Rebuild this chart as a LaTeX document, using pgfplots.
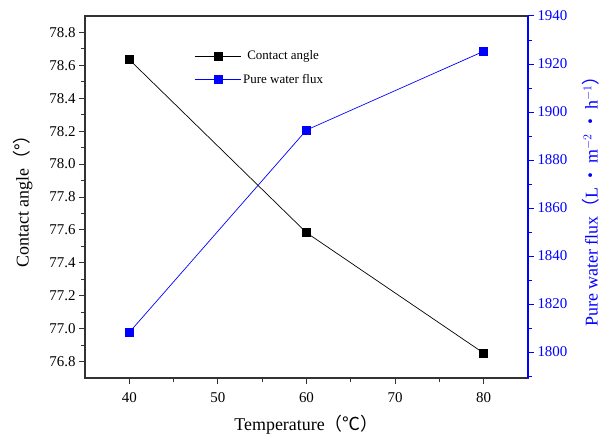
\documentclass[border=0pt]{standalone}
\usepackage{pgfplots}
\pgfplotsset{compat=1.18}
\usepackage{fontspec}
\setmainfont{Liberation Serif}
\newfontfamily\cjk{Noto Sans CJK SC}
\definecolor{fluxblue}{RGB}{0,0,255}
\definecolor{axgray}{RGB}{50,50,50}

\begin{document}
\begin{tikzpicture}
    % left axis: contact angle
    \begin{axis}[
        scale only axis,
        width=443bp, height=362bp,
        xmin=35, xmax=85,
        ymin=76.7, ymax=78.9,
        xtick={40,50,60,70,80},
        xticklabels={40,50,60,70,80},
        minor xtick={45,55,65,75},
        ytick={76.8,77.0,77.2,77.4,77.6,77.8,78.0,78.2,78.4,78.6,78.8},
        yticklabels={76.8,77.0,77.2,77.4,77.6,77.8,78.0,78.2,78.4,78.6,78.8},
        minor ytick={76.9,77.1,77.3,77.5,77.7,77.9,78.1,78.3,78.5,78.7},
        xtick pos=bottom, ytick pos=left,
        tick align=outside,
        major tick length=6bp, minor tick length=4bp,
        axis line style={axgray, line width=1.5pt},
        every tick/.style={axgray, line width=1pt},
        xticklabel style={yshift=-5bp},
        tick label style={font=\rmfamily\fontsize{15}{17}\selectfont},
        label style={font=\fontsize{18}{20}\selectfont},
        xlabel={Temperature{\cjk（℃）}},
        ylabel={Contact angle{\cjk（°）}},
        xlabel style={yshift=-6bp},
        ylabel style={yshift=10bp},
        legend style={draw=none, fill=none, at={(0.24,0.915)}, anchor=north west,
            font=\fontsize{13}{15}\selectfont, row sep=9bp,
            /tikz/every even column/.append style={column sep=4bp}},
        legend image code/.code={
            \draw[#1, mark=none] (0bp,0bp) -- (16bp,0bp);
            \draw[#1, mark=none] (30bp,0bp) -- (46bp,0bp);
            \path[#1, mark repeat=2, mark phase=2]
                plot coordinates {(0bp,0bp) (23bp,0bp) (46bp,0bp)};
        },
    ]
        \coordinate (o) at (rel axis cs:0,0);
        \addplot[color=black, line width=0.7pt, mark=square*, mark size=4bp,
            mark options={solid}] coordinates {
            (40, 78.635) (60, 77.583) (80, 76.851)
        };
        \addlegendentry{Contact angle}
        \addlegendimage{color=fluxblue, line width=0.7pt, mark=square*, mark size=4bp}
        \addlegendentry{Pure water flux}
    \end{axis}
    % right axis: pure water flux
    \begin{axis}[
        scale only axis,
        width=443bp, height=362bp,
        xmin=35, xmax=85,
        ymin=1789.2, ymax=1940,
        axis x line=none,
        axis y line*=right,
        ytick={1800,1820,1840,1860,1880,1900,1920,1940},
        yticklabels={1800,1820,1840,1860,1880,1900,1920,1940},
        minor ytick={1790,1810,1830,1850,1870,1890,1910,1930},
        tick align=outside,
        major tick length=6bp, minor tick length=4bp,
        axis line style={fluxblue, line width=1.5pt, -},
        every tick/.style={fluxblue, line width=1pt},
        yticklabel style={fluxblue},
        tick label style={font=\rmfamily\fontsize{15}{17}\selectfont},
        label style={font=\fontsize{18}{20}\selectfont},
        ylabel={Pure water flux{\cjk（}L\,{\cjk•}\,m$^{-2}$\,{\cjk•}\,h$^{-1}${\cjk）}},
        ylabel style={fluxblue, yshift=-8bp},
    ]
        \addplot[color=fluxblue, line width=0.7pt, mark=square*, mark size=4bp] coordinates {
            (40, 1808.2) (60, 1892.5) (80, 1925.3)
        };
    \end{axis}
    \pgfresetboundingbox
    \path (o) ++(-85bp,-57bp) rectangle ++(603bp,435bp);
\end{tikzpicture}
\end{document}
